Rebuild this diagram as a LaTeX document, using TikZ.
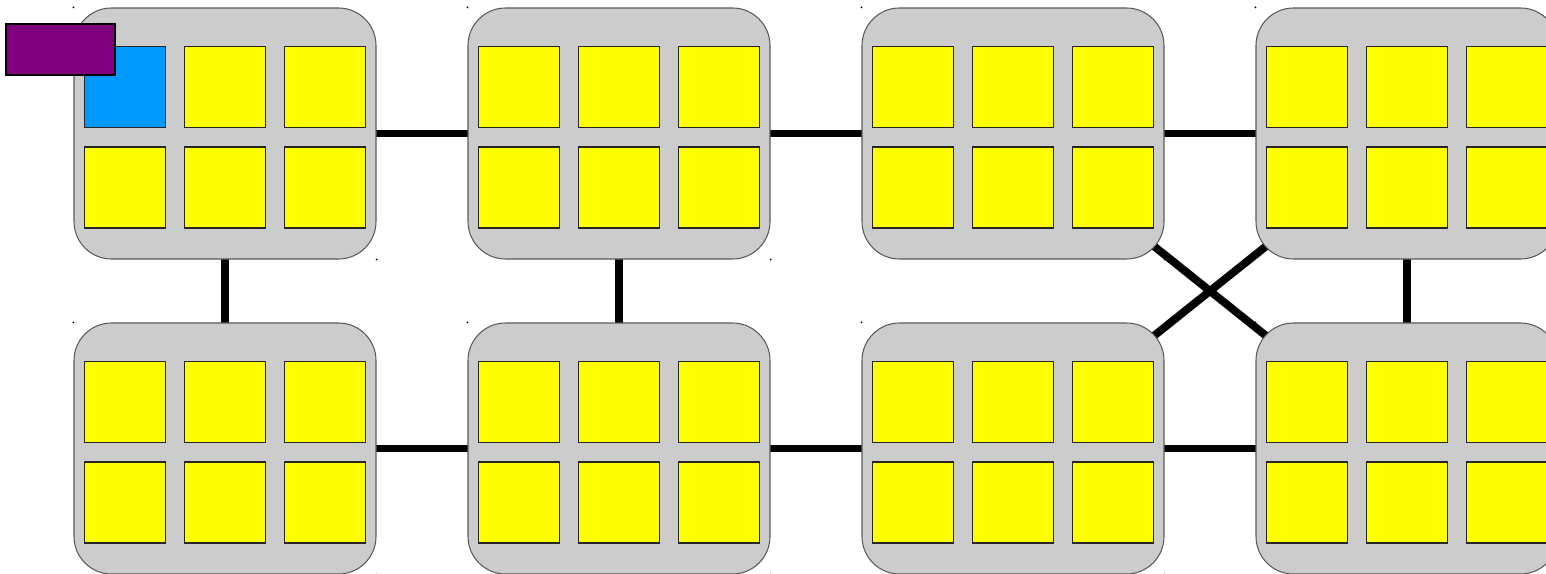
\documentclass[tikz,border=0pt]{standalone}
\usetikzlibrary{backgrounds}
\definecolor{cellyellow}{RGB}{255,255,0}
\definecolor{cellblue}{RGB}{0,153,255}
\definecolor{tagpurple}{RGB}{128,0,128}
\definecolor{boardgray}{RGB}{204,204,204}
\tikzset{
  board/.style={draw=black!65, fill=boardgray, line width=0.6pt, rounded corners=0.75cm,
    minimum width=6.04cm, minimum height=5.02cm, inner sep=0pt},
  cell/.style={draw=black!85, fill=cellyellow, line width=1pt, minimum size=1.62cm, inner sep=0pt},
  tag/.style={draw=black, fill=tagpurple, line width=0.6pt, minimum width=2.18cm,
    minimum height=1.02cm, inner sep=0pt},
  link/.style={line width=4.5pt}
}
% board: #1 fill of the first cell, #2 name, #3 x, #4 y
\newcommand{\board}[4][cellyellow]{%
  \node[board] (#2) at (#3,#4) {};
  \fill (#2.north west) circle(0.02);
  \fill (#2.south east) circle(0.02);
  \node[cell,fill=#1] (#2-11) at ([shift={(-2,0.93)}]#2.center) {};
  \foreach \rc/\dx/\dy in {12/0/0.93, 13/2/0.93, 21/-2/-1.08, 22/0/-1.08, 23/2/-1.08}
    \node[cell] (#2-\rc) at ([shift={(\dx,\dy)}]#2.center) {};
}

\begin{document}
\begin{tikzpicture}
  \useasboundingbox (0,0) rectangle (30.92,-11.46);
  % top row
  \board[cellblue]{ta}{4.5}{-2.67}
  \board{tb}{12.38}{-2.67}
  \board{tc}{20.26}{-2.67}
  \board{td}{28.14}{-2.67}
  % bottom row
  \board{ba}{4.5}{-8.97}
  \board{bb}{12.38}{-8.97}
  \board{bc}{20.26}{-8.97}
  \board{bd}{28.14}{-8.97}
  \node[tag] (host) at (1.21,-0.99) {};
  \begin{scope}[on background layer]
    \draw[link] (ta.center) -- (tb.center);
    \draw[link] (tb.center) -- (tc.center);
    \draw[link] (tc.center) -- (td.center);
    \draw[link] (ba.center) -- (bb.center);
    \draw[link] (bb.center) -- (bc.center);
    \draw[link] (bc.center) -- (bd.center);
    \draw[link] (ta.center) -- (ba.center);
    \draw[link] (tb.center) -- (bb.center);
    \draw[link] (td.center) -- (bd.center);
    \draw[link] (tc.center) -- (bd.center);
    \draw[link] (td.center) -- (bc.center);
  \end{scope}
\end{tikzpicture}
\end{document}
